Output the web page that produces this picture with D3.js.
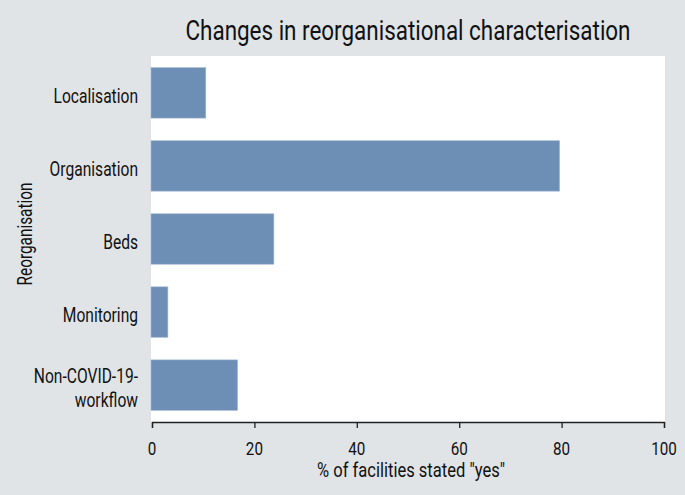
<!DOCTYPE html>
<html><head><meta charset="utf-8">
<script src="https://cdn.jsdelivr.net/npm/d3@7"></script>
<style>
body{margin:0;background:#e0e4e7;}
svg{display:block;}
text{font-family:Roboto,"Liberation Sans",sans-serif;fill:#111;}
</style></head>
<body>
<svg id="c" width="685" height="495"></svg>
<script>
const categories = ["Localisation","Organisation","Beds","Monitoring","Non-COVID-19-workflow"];
const categoryLines = [["Localisation"],["Organisation"],["Beds"],["Monitoring"],["Non-COVID-19-","workflow"]];
const values = [10.5, 79.6, 23.8, 3.1, 16.7];
const xTicks = [0,20,40,60,80,100];
const title = "Changes in reorganisational characterisation";
const xTitle = "% of facilities stated \"yes\"";
const yTitle = "Reorganisation";

const SX = 0.8; // horizontal condensing to imitate a narrow face
const svg = d3.select("#c");
const W=685,H=495;
svg.append("rect").attr("width",W).attr("height",H).attr("fill","#e0e4e7");
const plot = {l:151, r:665, t:56, b:422};
svg.append("rect").attr("x",plot.l).attr("y",plot.t).attr("width",plot.r-plot.l).attr("height",plot.b-plot.t).attr("fill","#fff");

const x = d3.scaleLinear().domain([0,100]).range([152,664]);
const y = d3.scaleBand().domain(categories).range([plot.t,plot.b]).paddingInner(0.31).paddingOuter(0.16);

svg.append("g").selectAll("rect").data(values).join("rect")
  .attr("x",x(0)-1).attr("y",(d,i)=>y(categories[i]))
  .attr("width",d=>x(d)-x(0)+1).attr("height",y.bandwidth())
  .attr("fill","#6d8fb6").attr("stroke","#9fb6d0").attr("stroke-width",0.6);

function txt(px,py,str,size,anchor,rot,sx){
  return svg.append("text")
    .attr("transform",`translate(${px},${py})${rot?` rotate(${rot})`:""} scale(${sx||SX},1)`)
    .attr("text-anchor",anchor).attr("font-size",size).text(str);
}
function fit(t,w){
  const n = t.node().getComputedTextLength();
  const tr = t.attr("transform").replace(/scale\([^)]*\)/, `scale(${w/n},1)`);
  t.attr("transform",tr);
  return t;
}

const xa = svg.append("g").attr("transform",`translate(0,${plot.b})`)
  .call(d3.axisBottom(x).tickValues(xTicks).tickSize(6).tickFormat(""));
xa.select(".domain").attr("stroke","#222").attr("stroke-width",1.3);
xa.selectAll(".tick line").attr("stroke","#222").attr("stroke-width",1.3);
xTicks.forEach(t=>txt(x(t),455,d3.format("d")(t),19,"middle"));

categories.forEach((c,i)=>{
  const lines = categoryLines[i];
  const cy = y(c)+y.bandwidth()/2;
  const lh = 24;
  lines.forEach((ln,j)=>{
    txt(138, cy + (j-(lines.length-1)/2)*lh + 10, ln, 19.5, "end");
  });
});

fit(txt(408,40,title,27,"middle"),445);
fit(txt(411,477,xTitle,19.5,"middle"),188);
fit(txt(32,234,yTitle,19.5,"middle",-90),103);
</script>
</body></html>
